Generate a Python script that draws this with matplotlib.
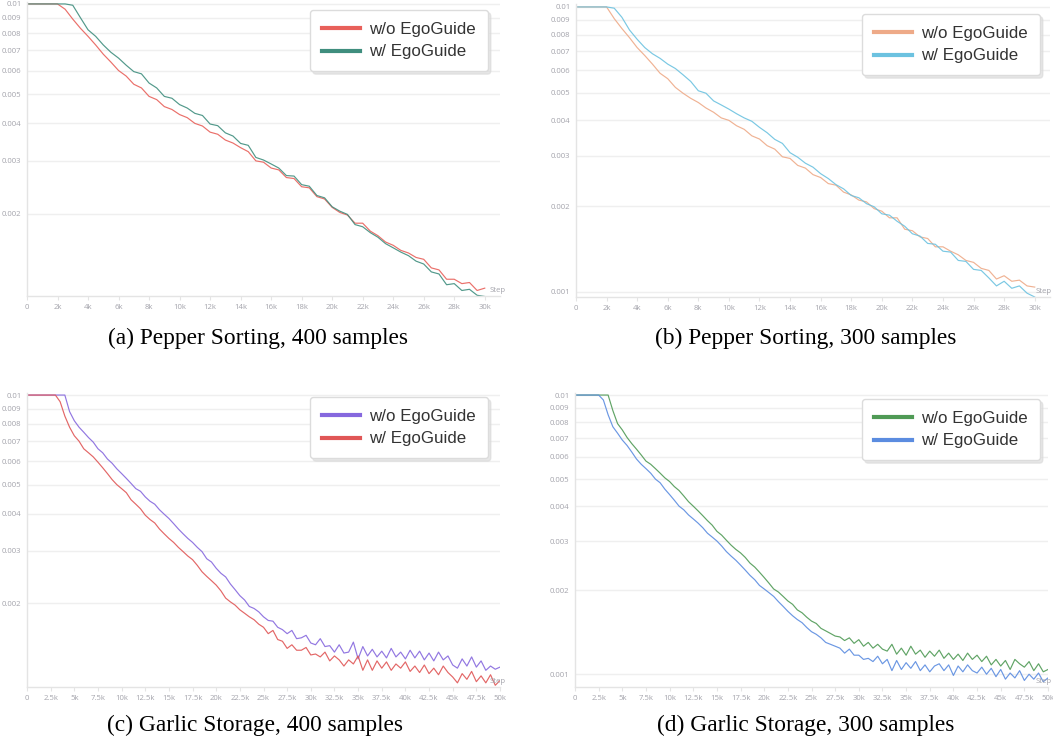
import numpy as np
import matplotlib
matplotlib.use("Agg")
import matplotlib.pyplot as plt
from matplotlib.ticker import FixedLocator, NullLocator, FuncFormatter
import matplotlib.transforms as mtransforms

W, H = 1053, 744

# ---------------- data (learning rate, in units of 1e-3) ----------------
steps_30k = np.arange(0, 30001, 500)
steps_50k = np.arange(0, 50001, 500)

# (a) Pepper Sorting, 400 samples
a_wo = [10, 10, 10, 10, 10, 9.6, 8.9, 8.3, 7.8, 7.3, 6.8, 6.4, 6.0, 5.75, 5.4, 5.25,
        4.92, 4.8, 4.55, 4.45, 4.28, 4.18, 4.0, 3.92, 3.74, 3.68, 3.52, 3.44, 3.32, 3.22,
        3.0, 2.97, 2.84, 2.8, 2.64, 2.62, 2.46, 2.44, 2.28, 2.24, 2.1, 2.02, 1.98, 1.86,
        1.86, 1.75, 1.69, 1.61, 1.57, 1.51, 1.48, 1.43, 1.41, 1.32, 1.30, 1.21, 1.21,
        1.17, 1.18, 1.11, 1.13]
a_w = [10, 10, 10, 10, 10, 10, 9.9, 9.0, 8.2, 7.8, 7.3, 6.9, 6.6, 6.25, 5.95, 5.85,
       5.45, 5.25, 4.92, 4.85, 4.62, 4.5, 4.32, 4.25, 3.98, 3.93, 3.72, 3.63, 3.43, 3.38,
       3.08, 3.02, 2.93, 2.84, 2.68, 2.67, 2.5, 2.47, 2.3, 2.26, 2.11, 2.04, 1.99, 1.84,
       1.81, 1.73, 1.67, 1.59, 1.54, 1.49, 1.45, 1.39, 1.36, 1.28, 1.26, 1.16, 1.17,
       1.11, 1.12, 1.07, 1.06]

# (b) Pepper Sorting, 300 samples
b_wo = [10, 10, 10, 10, 10, 9.1, 8.4, 7.8, 7.2, 6.75, 6.3, 5.85, 5.6, 5.22, 4.98, 4.78,
        4.62, 4.42, 4.27, 4.08, 4.0, 3.83, 3.72, 3.53, 3.44, 3.26, 3.17, 2.98, 2.94, 2.78,
        2.72, 2.58, 2.52, 2.4, 2.37, 2.24, 2.19, 2.1, 2.07, 1.96, 1.92, 1.82, 1.82, 1.66,
        1.64, 1.56, 1.54, 1.44, 1.44, 1.39, 1.35, 1.29, 1.27, 1.21, 1.19, 1.11, 1.14,
        1.09, 1.10, 1.05, 1.04]
b_w = [10, 10, 10, 10, 10, 9.9, 9.2, 8.3, 7.7, 7.2, 6.85, 6.6, 6.3, 6.08, 5.78, 5.48,
       5.08, 4.98, 4.68, 4.53, 4.38, 4.22, 4.08, 3.97, 3.78, 3.62, 3.43, 3.32, 3.08, 2.97,
       2.83, 2.74, 2.6, 2.5, 2.38, 2.3, 2.18, 2.14, 2.04, 1.99, 1.88, 1.86, 1.77, 1.70,
       1.6, 1.57, 1.48, 1.47, 1.39, 1.38, 1.29, 1.28, 1.2, 1.19, 1.12, 1.05, 1.09,
       1.03, 1.05, 0.99, 0.96]

# (c) Garlic Storage, 400 samples
c_wo = [10, 10, 10, 10, 10, 10, 10, 10, 10, 8.8, 8.2, 7.8, 7.5, 7.2, 6.95, 6.6, 6.4,
        6.1, 5.9, 5.65, 5.45, 5.25, 5.05, 4.85, 4.75, 4.55, 4.4, 4.3, 4.12, 3.98, 3.85,
        3.7, 3.55, 3.42, 3.3, 3.2, 3.08, 2.98, 2.82, 2.75, 2.62, 2.52, 2.45, 2.32, 2.22,
        2.12, 2.05, 1.95, 1.92, 1.87, 1.80, 1.75, 1.74, 1.66, 1.63, 1.58, 1.62, 1.52,
        1.53, 1.56, 1.47, 1.45, 1.52, 1.43, 1.44, 1.37, 1.45, 1.36, 1.37, 1.48, 1.30,
        1.43, 1.33, 1.40, 1.32, 1.38, 1.31, 1.41, 1.32, 1.37, 1.30, 1.39, 1.31, 1.38,
        1.29, 1.36, 1.28, 1.37, 1.29, 1.33, 1.24, 1.21, 1.30, 1.23, 1.32, 1.22, 1.28,
        1.19, 1.23, 1.20, 1.22]
c_w = [10, 10, 10, 10, 10, 10, 10, 9.5, 8.5, 7.8, 7.3, 7.0, 6.6, 6.4, 6.2, 5.95, 5.7,
       5.45, 5.2, 5.0, 4.85, 4.7, 4.45, 4.3, 4.15, 3.95, 3.82, 3.72, 3.55, 3.42, 3.3,
       3.2, 3.08, 2.98, 2.88, 2.8, 2.68, 2.55, 2.46, 2.38, 2.3, 2.2, 2.08, 2.02, 1.97,
       1.9, 1.85, 1.80, 1.76, 1.70, 1.66, 1.58, 1.62, 1.51, 1.49, 1.41, 1.45, 1.39,
       1.39, 1.42, 1.34, 1.35, 1.32, 1.37, 1.28, 1.33, 1.29, 1.23, 1.29, 1.25, 1.33,
       1.19, 1.29, 1.19, 1.28, 1.21, 1.27, 1.19, 1.25, 1.21, 1.27, 1.18, 1.23, 1.17,
       1.24, 1.16, 1.21, 1.15, 1.23, 1.17, 1.13, 1.08, 1.16, 1.11, 1.18, 1.09, 1.14,
       1.08, 1.15, 1.06, 1.10]

# (d) Garlic Storage, 300 samples
d_wo = [10, 10, 10, 10, 10, 10, 10, 10, 8.8, 7.9, 7.5, 7.05, 6.7, 6.4, 6.1, 5.8, 5.65,
        5.45, 5.25, 5.05, 4.9, 4.7, 4.55, 4.35, 4.15, 4.0, 3.85, 3.7, 3.55, 3.42, 3.25,
        3.15, 3.02, 2.9, 2.8, 2.72, 2.62, 2.5, 2.42, 2.32, 2.22, 2.12, 2.02, 1.97, 1.9,
        1.83, 1.78, 1.70, 1.66, 1.60, 1.55, 1.52, 1.46, 1.43, 1.40, 1.37, 1.36, 1.32,
        1.35, 1.29, 1.33, 1.26, 1.30, 1.24, 1.28, 1.23, 1.21, 1.28, 1.18, 1.24, 1.17,
        1.26, 1.18, 1.22, 1.15, 1.21, 1.16, 1.22, 1.14, 1.19, 1.13, 1.18, 1.12, 1.19,
        1.13, 1.17, 1.11, 1.16, 1.08, 1.13, 1.07, 1.12, 1.04, 1.13, 1.09, 1.06, 1.11,
        1.03, 1.09, 1.02, 1.04]
d_w = [10, 10, 10, 10, 10, 10, 9.6, 8.5, 7.7, 7.3, 6.9, 6.6, 6.25, 5.9, 5.65, 5.45,
       5.25, 5.0, 4.85, 4.6, 4.4, 4.2, 4.0, 3.88, 3.72, 3.6, 3.48, 3.35, 3.2, 3.1, 3.0,
       2.88, 2.75, 2.65, 2.56, 2.46, 2.36, 2.26, 2.18, 2.08, 2.02, 1.96, 1.90, 1.82,
       1.75, 1.68, 1.62, 1.57, 1.53, 1.47, 1.42, 1.39, 1.35, 1.30, 1.28, 1.26, 1.24,
       1.19, 1.23, 1.17, 1.17, 1.13, 1.14, 1.11, 1.16, 1.09, 1.13, 1.03, 1.12, 1.04,
       1.10, 1.05, 1.11, 1.03, 1.08, 1.02, 1.07, 1.09, 1.03, 1.08, 0.99, 1.07, 1.02,
       1.08, 1.03, 1.01, 1.06, 1.00, 1.05, 0.98, 1.04, 0.96, 1.01, 0.97, 1.03, 0.95,
       1.00, 0.96, 1.01, 0.94, 0.97]

labels = ["w/o EgoGuide", "w/ EgoGuide"]
captions = ["(a) Pepper Sorting, 400 samples", "(b) Pepper Sorting, 300 samples",
            "(c) Garlic Storage, 400 samples", "(d) Garlic Storage, 300 samples"]
y_ticks = [0.001, 0.002, 0.003, 0.004, 0.005, 0.006, 0.007, 0.008, 0.009, 0.01]

# ---------------- layout / style ----------------
panels = [
    dict(x=steps_30k, ys=[a_wo, a_w], col=["#e8605a", "#3f8e7e"],
         box=(27, 2, 500, 296), xlim=(0, 31000), ylim=(0.001064, 0.01015),
         xt=2000, xmax=30000, leg=(488, 10), cap=(258, 344), step_dx=-10),
    dict(x=steps_30k, ys=[b_wo, b_w], col=["#eeaa88", "#6cc2e0"],
         box=(576, 4, 1050, 297), xlim=(0, 31000), ylim=(0.000960, 0.01024),
         xt=2000, xmax=30000, leg=(1040, 14), cap=(806, 344), step_dx=-14),
    dict(x=steps_50k, ys=[c_wo, c_w], col=["#8668de", "#e05656"],
         box=(27, 393, 500, 687), xlim=(0, 50000), ylim=(0.001046, 0.01016),
         xt=2500, xmax=50000, leg=(488, 397), cap=(255, 731), step_dx=-10),
    dict(x=steps_50k, ys=[d_wo, d_w], col=["#4f9a55", "#5b8ce0"],
         box=(575, 393, 1048, 687), xlim=(0, 50000), ylim=(0.000900, 0.01017),
         xt=2500, xmax=50000, leg=(1040, 399), cap=(806, 731), step_dx=-12),
]

fig = plt.figure(figsize=(W / 100, H / 100), dpi=100)
fig.patch.set_facecolor("white")

tick_font = "Open Sans"
grey = "#a4a4ac"
tsize = 5.6

def kfmt(v, pos):
    if v == 0:
        return "0"
    return f"{v / 1000:g}k"

for i, p in enumerate(panels):
    l, t, r, b = p["box"]
    ax = fig.add_axes([l / W, 1 - b / H, (r - l) / W, (b - t) / H])
    for ys, c, lab in zip(p["ys"], p["col"], labels):
        ax.plot(p["x"], np.array(ys) * 1e-3, color=c, lw=0.85, alpha=0.9, label=lab)
    ax.set_yscale("log")
    ax.set_xlim(*p["xlim"])
    ax.set_ylim(*p["ylim"])
    ax.yaxis.set_major_locator(FixedLocator(y_ticks))
    ax.yaxis.set_minor_locator(NullLocator())
    ax.yaxis.set_major_formatter(FuncFormatter(lambda v, pos: f"{v:g}"))
    xt = np.arange(0, p["xmax"] + 1, p["xt"])
    ax.xaxis.set_major_locator(FixedLocator(xt))
    ax.xaxis.set_minor_locator(NullLocator())
    ax.xaxis.set_major_formatter(FuncFormatter(kfmt))
    ax.grid(axis="y", color="#efefef", lw=1.0)
    ax.set_axisbelow(True)
    for s in ["top", "right"]:
        ax.spines[s].set_visible(False)
    for s in ["left", "bottom"]:
        ax.spines[s].set_color("#e4e4e4")
        ax.spines[s].set_linewidth(1.0)
    ax.tick_params(axis="y", length=0, pad=4, labelsize=tsize, labelcolor=grey)
    ax.tick_params(axis="x", length=3, width=0.8, color="#e4e4e4", pad=2.5,
                   labelsize=tsize, labelcolor=grey)
    for lb in ax.get_xticklabels() + ax.get_yticklabels():
        lb.set_fontfamily(tick_font)
    ax.text(1.0, 0.0, "Step",
            transform=ax.transAxes + mtransforms.ScaledTranslation(p["step_dx"] / 100, 2 / 100, fig.dpi_scale_trans),
            ha="left", va="bottom", fontsize=tsize, color=grey, family=tick_font, clip_on=False)
    lr, lt = p["leg"]
    leg = ax.legend(loc="upper right", bbox_to_anchor=(lr / W, 1 - lt / H),
                    bbox_transform=fig.transFigure, borderaxespad=0,
                    prop={"family": "Liberation Sans", "size": 12.2},
                    handlelength=2.25, handletextpad=0.55, borderpad=0.7,
                    labelspacing=0.45, fancybox=True, framealpha=1,
                    shadow={"color": "#d8d8d8", "alpha": 0.6})
    leg.get_frame().set_edgecolor("#dcdcdc")
    leg.get_frame().set_linewidth(1.0)
    for h in leg.get_lines():
        h.set_linewidth(3.0)
        h.set_alpha(1.0)
    for txt in leg.get_texts():
        txt.set_color("#333333")
    cx, cy = p["cap"]
    fig.text(cx / W, 1 - cy / H, captions[i], ha="center", va="baseline",
             fontsize=16.8, family="Liberation Serif", color="black")

fig.savefig("out.png", dpi=100)
